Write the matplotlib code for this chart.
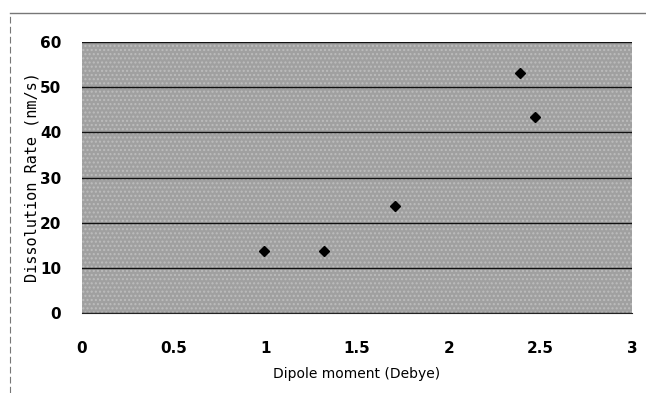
import matplotlib
matplotlib.use("Agg")
import matplotlib.pyplot as plt
from matplotlib.lines import Line2D
from matplotlib.patches import Rectangle

dipole = [0.99, 1.32, 1.71, 2.39, 2.47]
rate = [13.8, 13.8, 23.6, 53.2, 43.3]
xticks = [0, 0.5, 1, 1.5, 2, 2.5, 3]
xtick_labels = ["0", "0.5", "1", "1.5", "2", "2.5", "3"]
yticks = [0, 10, 20, 30, 40, 50, 60]

plt.rcParams["hatch.linewidth"] = 1.0
fig = plt.figure(figsize=(6.46, 3.93), dpi=100)
ax = fig.add_axes([82/646, 1-313/393, (632-82)/646, (313-42)/393])
ax.set_facecolor("#a0a0a0")
ax.add_patch(Rectangle((0, 0), 1, 1, transform=ax.transAxes,
                       facecolor="none", edgecolor="#bdbdbd",
                       hatch="....", linewidth=0, zorder=0.5))
ax.set_xlim(0, 3)
ax.set_ylim(0, 60)
ax.set_yticks(yticks)
ax.set_xticks(xticks)
ax.set_xticklabels(xtick_labels)
ax.yaxis.grid(True, color="#111111", linewidth=1.0, zorder=1)
ax.set_axisbelow(False)
for s in ["top", "right", "left"]:
    ax.spines[s].set_visible(False)
ax.spines["bottom"].set_color("#222222")
ax.tick_params(length=0, labelsize=11)
ax.tick_params(axis="x", pad=20)
ax.tick_params(axis="y", pad=15)
tick_fam = ["Liberation Sans Narrow", "DejaVu Sans"]
for lab in ax.get_xticklabels() + ax.get_yticklabels():
    lab.set_fontweight("bold")
    lab.set_family(tick_fam)

ax.plot(dipole, rate, linestyle="none", marker="D", markersize=5,
        color="black", zorder=3)

ax.set_xlabel("Dipole moment (Debye)", fontsize=10, labelpad=8)
ax.set_ylabel("Dissolution Rate (nm/s)", fontsize=11,
              family=["DejaVu Sans Mono"], labelpad=0)

fig.add_artist(Line2D([10/646, 1], [1-13/393, 1-13/393], color="#777777",
                      linewidth=1.0, transform=fig.transFigure))
fig.add_artist(Line2D([10/646, 10/646], [0, 1-13/393], color="#777777",
                      linewidth=0.8, linestyle=(0, (6, 3)),
                      transform=fig.transFigure))

fig.savefig("out.png", dpi=100)
